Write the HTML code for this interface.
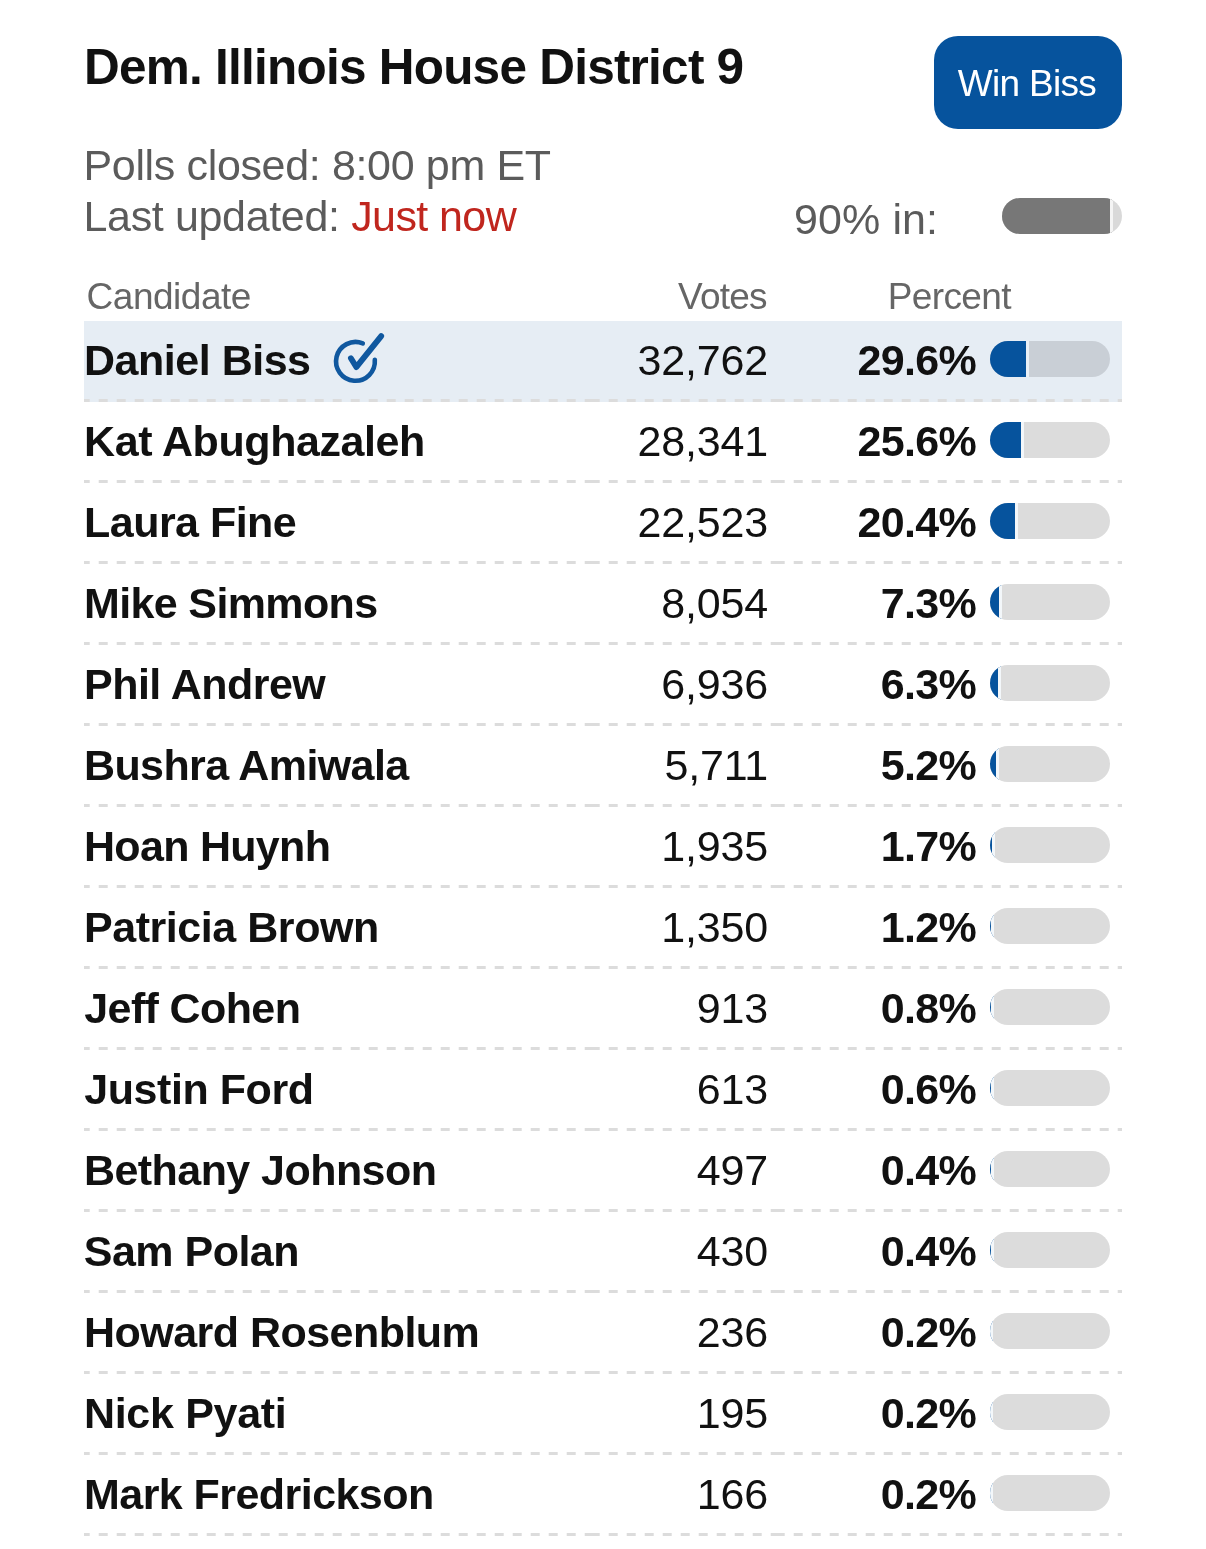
<!DOCTYPE html>
<html lang="en">
<head>
<meta charset="utf-8">
<title>Dem. Illinois House District 9</title>
<style>
html,body{margin:0;padding:0;background:#fff;}
body{width:1206px;height:1549px;overflow:hidden;font-family:"Liberation Sans",Arial,Helvetica,sans-serif;color:#111;}
.page{position:relative;width:1206px;height:1549px;overflow:hidden;background:#fff;}
.title{position:absolute;left:84px;top:39px;font-size:49.5px;font-weight:700;line-height:56px;letter-spacing:-.76px;white-space:nowrap;color:#111;}
.btn{position:absolute;left:934px;top:36px;width:188px;height:93px;border-radius:24px;background:#06539d;color:#fff;font-size:37px;line-height:96.6px;}
.btn span{position:absolute;left:23.8px;top:0;letter-spacing:-.69px;white-space:nowrap;}
.meta{position:absolute;left:83.5px;font-size:43px;line-height:50px;letter-spacing:-.35px;color:#5b5b5b;white-space:nowrap;}
.m1{top:140px;}
.m2{top:191px;}
.red{color:#c0261e;letter-spacing:-.59px;}
.in{position:absolute;left:794.1px;top:193.5px;font-size:43px;line-height:50px;letter-spacing:.08px;color:#5b5b5b;white-space:nowrap;}
.prog{position:absolute;left:1002px;top:198px;width:120px;height:36px;border-radius:18px;background:#d9d9d9;overflow:hidden;}
.prog .pf{position:absolute;left:0;top:0;height:36px;width:108px;background:#777;border-right:3px solid #f4f4f4;box-sizing:content-box;}
.th{position:absolute;top:275.2px;font-size:37px;line-height:44px;color:#666;white-space:nowrap;}
.c1{left:86.6px;letter-spacing:-.49px;}
.c2{left:678.1px;letter-spacing:-.78px;}
.c3{left:887.8px;letter-spacing:-.63px;}
.table{position:absolute;left:84px;top:321px;width:1038px;}
.row{position:relative;height:81px;width:1038px;}
.row.win:before{content:"";position:absolute;left:0;top:0;width:1038px;height:81px;background:#e6edf4;}
.row span{position:absolute;white-space:nowrap;}
.nm{left:1px;top:14px;font-size:43px;line-height:50px;font-weight:700;color:#111;}
.vt{right:354px;top:14px;font-size:43px;line-height:50px;letter-spacing:-.18px;color:#111;}
.pc{right:146px;top:14px;font-size:43px;line-height:50px;font-weight:700;letter-spacing:-.7px;color:#111;}
.bar{left:906px;top:20px;width:120px;height:36px;border-radius:18px;background:#dcdcdc;overflow:hidden;}
.win .bar{background:#c9cfd6;}
.win .bar .fill{border-right-color:#eaf0f6;}
.bar .fill{left:0;top:0;height:36px;background:#06539d;border-right:3px solid #f3f7fa;box-sizing:content-box;}
.chk{position:absolute;left:241px;top:0;}
.chk path{fill:none;stroke:#10589f;stroke-linecap:round;stroke-linejoin:round;}
.chk .c{stroke-width:4.6;}
.chk .k{stroke-width:5.8;}
.row i{position:absolute;top:78px;height:3px;}
.row i{background:repeating-linear-gradient(90deg,#dcdcdc 0,#dcdcdc 9px,transparent 9px,transparent 18px);background-position:-3.3px 0;}
.d1{left:0;width:509.5px;}
.d2{left:509.5px;width:185.3px;}
.d3{left:694.8px;width:343.2px;}
</style>
</head>
<body>
<div class="page">
<div class="title">Dem. Illinois House District 9</div>
<div class="btn"><span>Win Biss</span></div>
<div class="meta m1">Polls closed: 8:00 pm ET</div>
<div class="meta m2">Last updated: <span class="red">Just now</span></div>
<div class="in">90% in:</div>
<div class="prog"><span class="pf"></span></div>
<div class="th c1">Candidate</div>
<div class="th c2">Votes</div>
<div class="th c3">Percent</div>
<div class="table">
<div class="row win"><span class="nm" style="left:0.0px;letter-spacing:-0.48px">Daniel Biss</span><svg class="chk" width="64" height="78" viewBox="0 0 64 78"><path class="c" d="M 37.8 22.4 A 19.4 19.4 0 1 0 49.8 38.8"/><path class="k" d="M 25.9 37.3 L 31.3 46.1 L 56.2 15.1"/></svg><span class="vt">32,762</span><span class="pc">29.6%</span><span class="bar"><span class="fill" style="width:35.5px"></span></span><i class="d1"></i><i class="d2"></i><i class="d3"></i></div>
<div class="row"><span class="nm" style="left:0.0px;letter-spacing:-0.42px">Kat Abughazaleh</span><span class="vt">28,341</span><span class="pc">25.6%</span><span class="bar"><span class="fill" style="width:30.7px"></span></span><i class="d1"></i><i class="d2"></i><i class="d3"></i></div>
<div class="row"><span class="nm" style="left:0.0px;letter-spacing:-0.52px">Laura Fine</span><span class="vt">22,523</span><span class="pc">20.4%</span><span class="bar"><span class="fill" style="width:24.5px"></span></span><i class="d1"></i><i class="d2"></i><i class="d3"></i></div>
<div class="row"><span class="nm" style="left:0.0px;letter-spacing:-0.64px">Mike Simmons</span><span class="vt">8,054</span><span class="pc">7.3%</span><span class="bar"><span class="fill" style="width:8.8px"></span></span><i class="d1"></i><i class="d2"></i><i class="d3"></i></div>
<div class="row"><span class="nm" style="left:0.0px;letter-spacing:-0.51px">Phil Andrew</span><span class="vt">6,936</span><span class="pc">6.3%</span><span class="bar"><span class="fill" style="width:7.6px"></span></span><i class="d1"></i><i class="d2"></i><i class="d3"></i></div>
<div class="row"><span class="nm" style="left:0.0px;letter-spacing:-0.6px">Bushra Amiwala</span><span class="vt">5,711</span><span class="pc">5.2%</span><span class="bar"><span class="fill" style="width:6.2px"></span></span><i class="d1"></i><i class="d2"></i><i class="d3"></i></div>
<div class="row"><span class="nm" style="left:0.0px;letter-spacing:-0.7px">Hoan Huynh</span><span class="vt">1,935</span><span class="pc">1.7%</span><span class="bar"><span class="fill" style="width:2.0px"></span></span><i class="d1"></i><i class="d2"></i><i class="d3"></i></div>
<div class="row"><span class="nm" style="left:0.0px;letter-spacing:-0.45px">Patricia Brown</span><span class="vt">1,350</span><span class="pc">1.2%</span><span class="bar"><span class="fill" style="width:1.4px"></span></span><i class="d1"></i><i class="d2"></i><i class="d3"></i></div>
<div class="row"><span class="nm" style="left:0.3px;letter-spacing:-0.62px">Jeff Cohen</span><span class="vt">913</span><span class="pc">0.8%</span><span class="bar"><span class="fill" style="width:1.0px"></span></span><i class="d1"></i><i class="d2"></i><i class="d3"></i></div>
<div class="row"><span class="nm" style="left:0.3px;letter-spacing:-0.44px">Justin Ford</span><span class="vt">613</span><span class="pc">0.6%</span><span class="bar"><span class="fill" style="width:0.7px"></span></span><i class="d1"></i><i class="d2"></i><i class="d3"></i></div>
<div class="row"><span class="nm" style="left:0.0px;letter-spacing:-0.56px">Bethany Johnson</span><span class="vt">497</span><span class="pc">0.4%</span><span class="bar"><span class="fill" style="width:0.5px"></span></span><i class="d1"></i><i class="d2"></i><i class="d3"></i></div>
<div class="row"><span class="nm" style="left:-0.2px;letter-spacing:-0.52px">Sam Polan</span><span class="vt">430</span><span class="pc">0.4%</span><span class="bar"><span class="fill" style="width:0.5px"></span></span><i class="d1"></i><i class="d2"></i><i class="d3"></i></div>
<div class="row"><span class="nm" style="left:0.0px;letter-spacing:-0.53px">Howard Rosenblum</span><span class="vt">236</span><span class="pc">0.2%</span><span class="bar"><span class="fill" style="width:0.2px"></span></span><i class="d1"></i><i class="d2"></i><i class="d3"></i></div>
<div class="row"><span class="nm" style="left:0.0px;letter-spacing:-0.32px">Nick Pyati</span><span class="vt">195</span><span class="pc">0.2%</span><span class="bar"><span class="fill" style="width:0.2px"></span></span><i class="d1"></i><i class="d2"></i><i class="d3"></i></div>
<div class="row"><span class="nm" style="left:0.0px;letter-spacing:-0.55px">Mark Fredrickson</span><span class="vt">166</span><span class="pc">0.2%</span><span class="bar"><span class="fill" style="width:0.2px"></span></span><i class="d1"></i><i class="d2"></i><i class="d3"></i></div>
</div>
</div>
</body>
</html>
